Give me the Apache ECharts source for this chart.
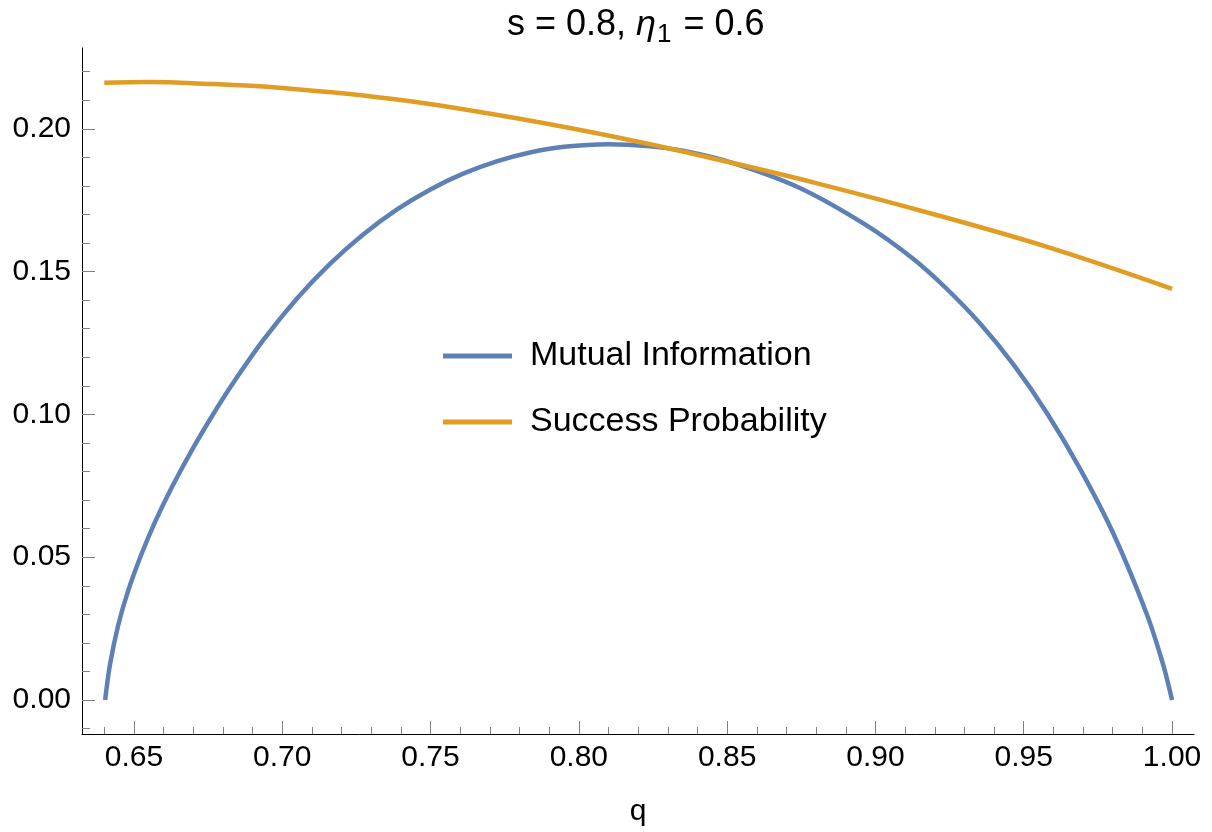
<!DOCTYPE html>
<html>
<head>
<meta charset="utf-8">
<script src="https://cdn.jsdelivr.net/npm/echarts@6/dist/echarts.min.js"></script>
<style>
html,body{margin:0;padding:0;background:#fff;}
#chart{width:1212px;height:832px;}
</style>
</head>
<body>
<div id="chart"></div>
<script>
// ---- data ----
const qMI = [0.6403, 0.6419, 0.6447, 0.6481, 0.6526, 0.6571, 0.6627, 0.6695, 0.6762, 0.6830, 0.6936, 0.7049, 0.7161, 0.7273, 0.7386, 0.7498, 0.7610, 0.7723, 0.7835, 0.7950, 0.8100, 0.8230, 0.8351, 0.8520, 0.8745, 0.8970, 0.9127, 0.9240, 0.9352, 0.9465, 0.9577, 0.9689, 0.9802, 0.9914, 0.9970, 1.0000];
const mutualInfo = [0.0, 0.0122, 0.0262, 0.0384, 0.0512, 0.0623, 0.0743, 0.0874, 0.0992, 0.1103, 0.1260, 0.1405, 0.1527, 0.1630, 0.1717, 0.1787, 0.1843, 0.1886, 0.1917, 0.1937, 0.1946, 0.1940, 0.1923, 0.1880, 0.1793, 0.1662, 0.1545, 0.1440, 0.1319, 0.1175, 0.1007, 0.0811, 0.0583, 0.0303, 0.0124, 0.0];
const qSP = [0.640, 0.655, 0.670, 0.700, 0.740, 0.780, 0.820, 0.850, 0.880, 0.920, 0.960, 1.000];
const successProb = [0.2161, 0.2164, 0.2160, 0.2143, 0.2101, 0.2035, 0.1955, 0.1885, 0.1810, 0.1700, 0.1580, 0.1440];
const xMajorTicks = [0.65, 0.70, 0.75, 0.80, 0.85, 0.90, 0.95, 1.00];
const xMinorTicks = [0.64,0.65,0.66,0.67,0.68,0.69,0.70,0.71,0.72,0.73,0.74,0.75,0.76,0.77,0.78,0.79,0.80,0.81,0.82,0.83,0.84,0.85,0.86,0.87,0.88,0.89,0.90,0.91,0.92,0.93,0.94,0.95,0.96,0.97,0.98,0.99,1.00];
const yMajorTicks = [0.00, 0.05, 0.10, 0.15, 0.20];
const yMinorTicks = [-0.01,0.00,0.01,0.02,0.03,0.04,0.05,0.06,0.07,0.08,0.09,0.10,0.11,0.12,0.13,0.14,0.15,0.16,0.17,0.18,0.19,0.20,0.21,0.22];
const seriesNames = ['Mutual Information', 'Success Probability'];

const FONT = '"Liberation Sans", Arial, Helvetica, sans-serif';
const BLUE = '#5E81B5';
const ORANGE = '#E19C24';
const TICK = '#808080';

const chart = echarts.init(document.getElementById('chart'), null, {renderer: 'canvas'});

const xMin = 0.6325, xMax = 1.0074, yMin = -0.0119, yMax = 0.2283;

function makeX(ticks, labelled) {
  return {
    type: 'value', gridIndex: 0, position: 'bottom', min: xMin, max: xMax,
    axisLine: {show: labelled, onZero: false, lineStyle: {color: '#000', width: 1}},
    axisTick: {show: true, inside: true, length: labelled ? 13 : 7, customValues: ticks, lineStyle: {color: TICK, width: 1}},
    axisLabel: labelled ? {show: true, customValues: ticks, formatter: v => v.toFixed(2), fontSize: 30, fontFamily: FONT, color: '#000', margin: 9} : {show: false},
    splitLine: {show: false},
    name: labelled ? 'q' : '', nameLocation: 'middle', nameGap: 63,
    nameTextStyle: {fontSize: 30, fontFamily: FONT, color: '#000'}
  };
}
function makeY(ticks, labelled) {
  return {
    type: 'value', gridIndex: 0, position: 'left', min: yMin, max: yMax,
    axisLine: {show: labelled, onZero: false, lineStyle: {color: '#000', width: 1}},
    axisTick: {show: true, inside: true, length: labelled ? 13 : 8, customValues: ticks, lineStyle: {color: TICK, width: 1}},
    axisLabel: labelled ? {show: true, customValues: ticks, formatter: v => v.toFixed(2), fontSize: 30, fontFamily: FONT, color: '#000', margin: 11} : {show: false},
    splitLine: {show: false}
  };
}

const option = {
  animation: false,
  backgroundColor: '#fff',
  title: {
    text: 's = 0.8, {i|η}{sub|1} = 0.6',
    left: 507,
    top: 4,
    padding: 0,
    textStyle: {
      fontSize: 36, fontFamily: FONT, color: '#000', fontWeight: 'normal', lineHeight: 42,
      rich: {
        i: {fontSize: 36, fontStyle: 'italic', fontFamily: FONT, color: '#000', lineHeight: 42},
        sub: {fontSize: 26, fontFamily: FONT, color: '#000', padding: [19, 2, 0, 1]}
      }
    }
  },
  grid: {left: 82, right: 18, top: 48, bottom: 97, containLabel: false},
  legend: [
    {
      data: [seriesNames[0]], orient: 'vertical', left: 443, top: 336, padding: 0,
      icon: 'rect', itemWidth: 69, itemHeight: 5,
      textStyle: {fontSize: 34, fontFamily: FONT, color: '#000', lineHeight: 40, padding: [0, 0, 0, 13]},
      selectedMode: false
    },
    {
      data: [seriesNames[1]], orient: 'vertical', left: 443, top: 402, padding: 0,
      icon: 'rect', itemWidth: 69, itemHeight: 5,
      textStyle: {fontSize: 34, fontFamily: FONT, color: '#000', lineHeight: 40, padding: [0, 0, 0, 13]},
      selectedMode: false
    }
  ],
  xAxis: [makeX(xMajorTicks, true), makeX(xMinorTicks, false)],
  yAxis: [makeY(yMajorTicks, true), makeY(yMinorTicks, false)],
  series: [
    {
      name: seriesNames[0], type: 'line', xAxisIndex: 0, yAxisIndex: 0,
      data: qMI.map((q, i) => [q, mutualInfo[i]]),
      showSymbol: false, smooth: 0.3, color: BLUE,
      lineStyle: {color: BLUE, width: 4.5}, itemStyle: {color: BLUE}
    },
    {
      name: seriesNames[1], type: 'line', xAxisIndex: 0, yAxisIndex: 0,
      data: qSP.map((q, i) => [q, successProb[i]]),
      showSymbol: false, smooth: 0.4, color: ORANGE,
      lineStyle: {color: ORANGE, width: 4.5}, itemStyle: {color: ORANGE}
    }
  ]
};
chart.setOption(option);
</script>
</body>
</html>
